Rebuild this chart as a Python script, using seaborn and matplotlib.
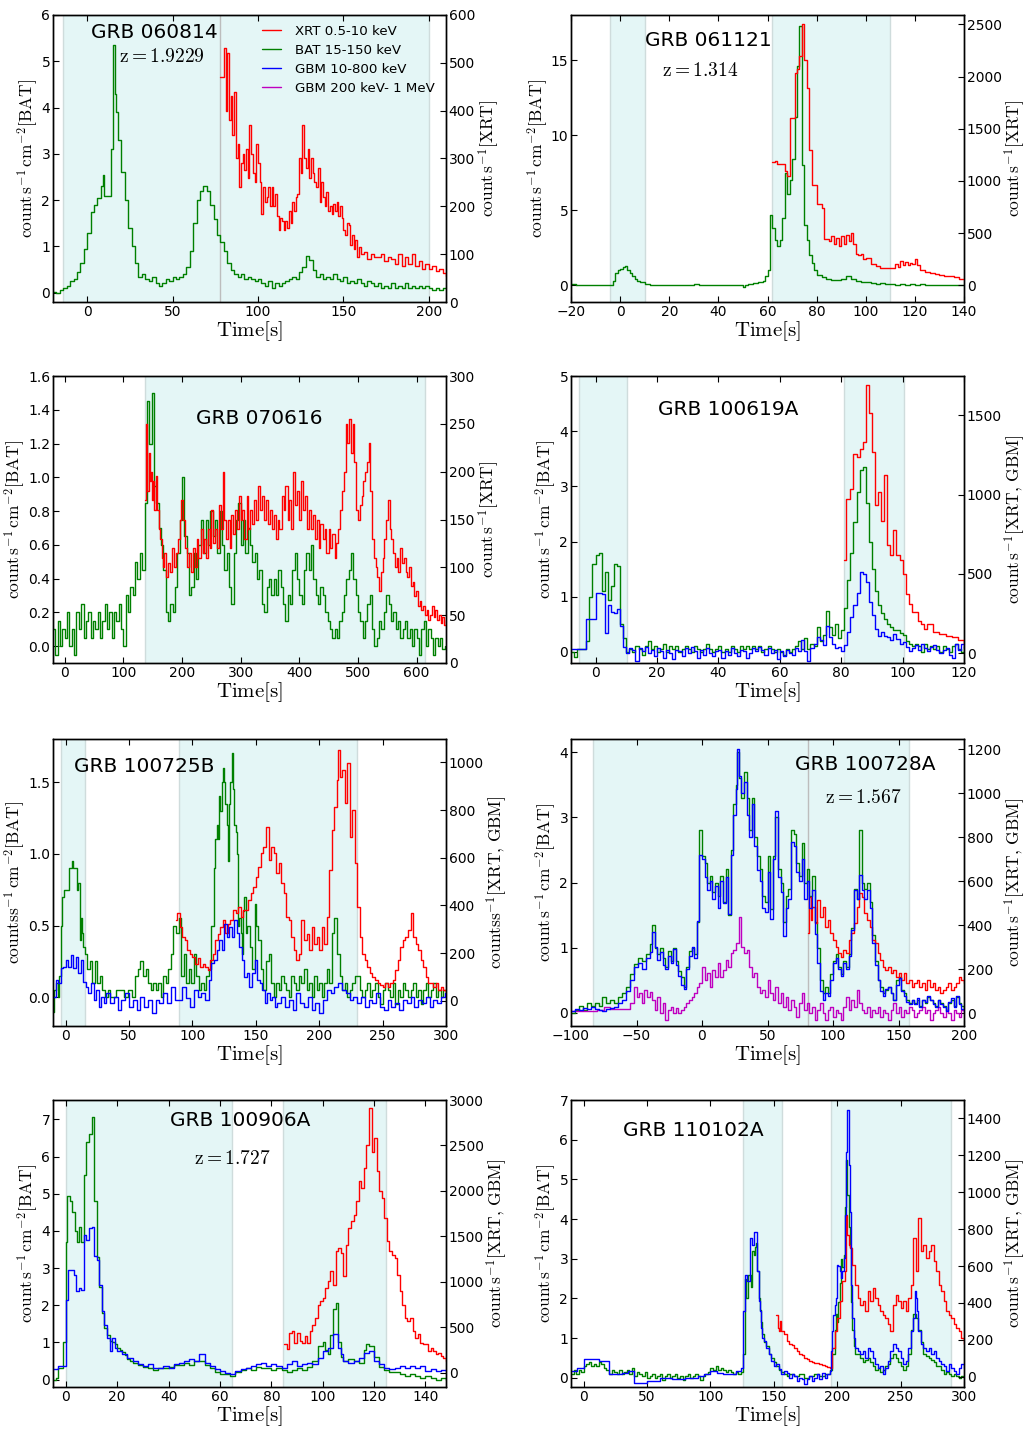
import numpy as np
import matplotlib
matplotlib.use("Agg")
import matplotlib.pyplot as plt
from matplotlib.lines import Line2D
from matplotlib.ticker import MultipleLocator
import seaborn as sns

# ---------------------------------------------------------------------------
# Light curves: (time [s], rate) pairs.
# BAT in counts s^-1 cm^-2 (left axis); XRT / GBM in counts s^-1 (right axis)
# ---------------------------------------------------------------------------

# GRB 060814
bat_060814 = [(-20, 0.02), (-18, 0.0), (-16, 0.05), (-14, 0.1), (-12, 0.15), (-10, 0.25), (-8, 0.3),
              (-6, 0.45), (-4, 0.65), (-2, 0.95), (0, 1.3), (2, 1.75), (4, 1.9), (6, 2.05), (8, 2.3),
              (9, 2.55), (10, 2.1), (12, 2.1), (14, 3.1), (15, 5.35), (16, 4.3), (17, 3.9), (18, 3.3),
              (20, 2.6), (22, 2.0), (24, 1.4), (26, 1.0), (28, 0.65), (30, 0.35), (32, 0.4), (34, 0.3),
              (36, 0.25), (38, 0.35), (40, 0.2), (42, 0.15), (44, 0.2), (46, 0.3), (48, 0.25), (50, 0.35),
              (52, 0.3), (54, 0.35), (56, 0.4), (58, 0.55), (60, 0.9), (62, 1.5), (64, 2.0), (66, 2.2),
              (68, 2.3), (70, 2.2), (72, 1.9), (74, 1.6), (76, 1.25), (78, 1.1), (80, 0.9), (82, 0.65),
              (84, 0.5), (86, 0.4), (88, 0.35), (90, 0.4), (92, 0.3), (94, 0.35), (96, 0.3), (98, 0.25),
              (100, 0.3), (102, 0.2), (104, 0.15), (106, 0.25), (108, 0.1), (110, 0.2), (112, 0.15),
              (114, 0.2), (116, 0.25), (118, 0.3), (120, 0.35), (122, 0.3), (124, 0.45), (126, 0.55),
              (128, 0.8), (130, 0.7), (132, 0.5), (134, 0.35), (136, 0.4), (138, 0.3), (140, 0.35),
              (142, 0.3), (144, 0.4), (146, 0.3), (148, 0.25), (150, 0.35), (152, 0.2), (154, 0.25),
              (156, 0.2), (158, 0.3), (160, 0.2), (162, 0.15), (164, 0.25), (166, 0.2), (168, 0.15),
              (170, 0.2), (172, 0.1), (174, 0.15), (176, 0.1), (178, 0.2), (180, 0.1), (182, 0.15),
              (184, 0.1), (186, 0.2), (188, 0.1), (190, 0.15), (192, 0.1), (194, 0.15), (196, 0.1),
              (198, 0.15), (200, 0.1), (202, 0.05), (204, 0.1), (206, 0.05), (208, 0.1), (210, 0.1)]
xrt_060814 = [(78, 470), (80, 530), (81, 400), (82, 520), (83, 380), (84, 430), (85, 350), (86, 440),
              (87, 300), (88, 330), (89, 240), (90, 290), (91, 310), (92, 275), (93, 320), (94, 260),
              (95, 370), (96, 310), (97, 270), (98, 250), (99, 330), (100, 290), (101, 250), (102, 185),
              (103, 240), (104, 210), (105, 220), (106, 240), (107, 200), (108, 240), (109, 200),
              (110, 225), (111, 180), (112, 150), (113, 175), (114, 170), (115, 150), (116, 170),
              (117, 155), (118, 190), (119, 165), (120, 210), (121, 190), (122, 220), (123, 225),
              (124, 300), (125, 270), (126, 370), (127, 300), (128, 280), (129, 320), (130, 260),
              (131, 300), (132, 270), (133, 250), (134, 240), (135, 280), (136, 210), (137, 250),
              (138, 220), (139, 200), (140, 230), (141, 190), (142, 200), (143, 185), (144, 205),
              (145, 190), (146, 210), (147, 180), (148, 200), (149, 175), (150, 150), (151, 140),
              (152, 165), (153, 160), (154, 120), (155, 140), (156, 110), (157, 130), (158, 95),
              (159, 115), (160, 100), (162, 105), (164, 90), (166, 100), (168, 95), (170, 95), (172, 100),
              (174, 85), (176, 95), (178, 90), (180, 80), (182, 100), (184, 75), (186, 95), (188, 80),
              (190, 100), (192, 75), (194, 85), (196, 70), (198, 80), (200, 70), (202, 75), (204, 65),
              (206, 70), (208, 60), (210, 55)]

# GRB 061121
bat_061121 = [(-20, 0.1), (-18, 0.05), (-16, 0.0), (-14, 0.02), (-12, 0.0), (-10, 0.05), (-8, 0.02),
              (-6, 0.05), (-4, 0.0), (-3, 0.3), (-2, 0.8), (-1, 1.0), (0, 1.1), (1, 1.25), (2, 1.3),
              (3, 1.0), (4, 0.8), (5, 0.6), (6, 0.4), (7, 0.3), (8, 0.2), (10, 0.1), (12, 0.05),
              (14, 0.02), (16, 0.05), (18, 0.0), (20, 0.03), (22, 0.0), (24, 0.05), (26, 0.0), (28, 0.03),
              (30, 0.08), (32, 0.02), (34, 0.0), (36, 0.05), (38, 0.0), (40, 0.03), (42, 0.05), (44, 0.0),
              (46, 0.02), (48, 0.05), (50, -0.1), (51, 0.0), (52, 0.1), (54, 0.15), (56, 0.25), (58, 0.3),
              (59, 0.6), (60, 1.0), (61, 4.7), (62, 3.8), (63, 3.0), (64, 2.6), (65, 3.0), (66, 4.5),
              (67, 7.5), (68, 6.1), (69, 7.0), (70, 8.4), (71, 11.2), (72, 14.6), (73, 17.3), (74, 8.0),
              (75, 4.0), (76, 3.0), (77, 2.0), (78, 1.5), (79, 1.0), (80, 0.7), (82, 0.55), (84, 0.45),
              (86, 0.35), (88, 0.35), (90, 0.45), (92, 0.6), (94, 0.4), (96, 0.3), (98, 0.25), (100, 0.2),
              (102, 0.15), (104, 0.1), (106, 0.15), (108, 0.1), (110, 0.12), (112, 0.05), (114, 0.1),
              (116, 0.05), (118, 0.1), (120, 0.05), (122, 0.08), (124, 0.02), (126, 0.05), (128, 0.0),
              (130, 0.05), (132, 0.02), (134, 0.05), (136, 0.0), (138, 0.03), (140, 0.02)]
xrt_061121 = [(62, 1180), (63, 1190), (64, 1160), (66, 1160), (67, 1100), (68, 1050), (69, 1600),
              (70, 1600), (71, 2030), (72, 2070), (73, 2200), (74, 2500), (75, 2160), (76, 1890),
              (77, 1300), (78, 960), (80, 780), (82, 740), (83, 440), (84, 440), (85, 420), (86, 470),
              (87, 400), (88, 450), (89, 380), (90, 470), (91, 400), (92, 480), (93, 420), (94, 500),
              (95, 400), (96, 300), (97, 290), (98, 300), (99, 250), (100, 260), (102, 200), (104, 185),
              (106, 170), (108, 165), (110, 170), (112, 200), (113, 180), (114, 230), (115, 190),
              (116, 220), (117, 190), (118, 215), (119, 200), (120, 255), (121, 190), (122, 150),
              (124, 130), (126, 120), (128, 110), (130, 100), (132, 90), (134, 85), (136, 75), (138, 65),
              (140, 60)]

# GRB 070616 (BAT in 4 s bins starting at -20 s)
bat_070616_start, bat_070616_bin = -20, 4
bat_070616 = [0.1, -0.05, 0.15, 0.0, 0.1, 0.05, 0.2, 0.0, 0.1, -0.05,
              0.2, 0.1, 0.25, 0.05, 0.15, 0.2, 0.05, 0.15, 0.1, 0.2,
              0.05, 0.15, 0.25, 0.1, 0.2, 0.05, 0.2, 0.15, 0.25, 0.1,
              0.0, 0.3, 0.2, 0.35, 0.3, 0.5, 0.4, 0.55, 0.45, 0.85,
              1.45, 1.2, 1.5, 0.95, 0.85, 0.7, 0.6, 0.45, 0.2, 0.15,
              0.25, 0.2, 0.35, 0.55, 0.75, 1.0, 0.65, 0.55, 0.3, 0.35,
              0.55, 0.4, 0.6, 0.75, 0.55, 0.75, 0.6, 0.8, 0.65, 0.75,
              0.55, 0.8, 0.6, 0.45, 0.55, 0.35, 0.25, 0.55, 0.75, 0.85,
              0.6, 0.75, 0.55, 0.7, 0.6, 0.5, 0.55, 0.4, 0.45, 0.25,
              0.2, 0.35, 0.4, 0.3, 0.4, 0.3, 0.45, 0.35, 0.25, 0.15,
              0.3, 0.25, 0.45, 0.55, 0.4, 0.3, 0.25, 0.45, 0.55, 0.45,
              0.6, 0.4, 0.3, 0.25, 0.35, 0.3, 0.2, 0.15, 0.1, 0.05,
              0.1, 0.05, 0.15, 0.2, 0.3, 0.4, 0.45, 0.55, 0.4, 0.3,
              0.2, 0.15, 0.05, 0.15, 0.25, 0.3, 0.1, 0.0, 0.05, 0.15,
              0.1, 0.2, 0.3, 0.25, 0.15, 0.2, 0.1, 0.15, 0.05, 0.1,
              0.15, 0.05, 0.1, 0.0, 0.1, 0.05, -0.05, 0.1, 0.15, 0.0,
              0.1, 0.05, -0.05, 0.05, 0.0, 0.05, -0.02, 0.0]
xrt_070616 = [(137, 170), (139, 250), (141, 180), (143, 220), (145, 190), (147, 200), (149, 170),
              (151, 190), (153, 160), (155, 195), (157, 160), (160, 140), (163, 130), (165, 110),
              (168, 100), (170, 115), (173, 90), (176, 105), (180, 95), (183, 120), (186, 100), (190, 115),
              (193, 130), (196, 150), (199, 170), (202, 150), (205, 120), (208, 100), (212, 115),
              (215, 95), (218, 120), (222, 100), (225, 130), (228, 110), (232, 140), (235, 115),
              (238, 130), (241, 110), (244, 140), (247, 120), (250, 160), (253, 125), (256, 140),
              (260, 120), (263, 165), (266, 140), (269, 200), (272, 150), (275, 130), (278, 150),
              (281, 120), (284, 155), (287, 135), (290, 160), (294, 140), (297, 175), (300, 150),
              (303, 160), (306, 130), (310, 175), (313, 140), (316, 160), (320, 145), (323, 170),
              (326, 150), (330, 185), (333, 160), (336, 175), (340, 150), (343, 170), (346, 145),
              (350, 160), (353, 140), (356, 155), (360, 130), (363, 150), (366, 140), (370, 175),
              (373, 160), (376, 185), (380, 150), (383, 170), (386, 140), (390, 200), (393, 165),
              (396, 180), (400, 150), (403, 190), (406, 160), (410, 175), (413, 140), (416, 160),
              (420, 140), (423, 155), (426, 130), (430, 150), (433, 120), (436, 145), (440, 130),
              (443, 140), (446, 115), (450, 140), (453, 120), (456, 135), (460, 110), (463, 125),
              (466, 140), (470, 160), (473, 180), (476, 200), (479, 250), (482, 230), (485, 255),
              (488, 220), (491, 250), (494, 210), (497, 160), (500, 150), (503, 165), (506, 175),
              (509, 190), (512, 200), (515, 210), (518, 230), (521, 180), (524, 130), (527, 110),
              (530, 100), (533, 90), (536, 75), (539, 95), (542, 110), (545, 130), (548, 150),
              (551, 170), (554, 140), (557, 130), (560, 115), (563, 100), (566, 110), (569, 95),
              (572, 120), (575, 105), (578, 110), (581, 95), (584, 90), (587, 100), (590, 80),
              (593, 85), (596, 70), (599, 75), (602, 60), (605, 65), (608, 55), (611, 60), (614, 50),
              (617, 55), (620, 45), (623, 50), (626, 60), (629, 48), (632, 55), (635, 45), (638, 50),
              (641, 42), (644, 48), (647, 40), (650, 45)]

# GRB 100619A
bat_100619A = [(-8, 0.0), (-7, -0.1), (-6, 0.05), (-5, 0.05), (-4, 0.05), (-3, 0.2), (-2, 1.0),
               (-1, 1.6), (0, 1.75), (1, 1.8), (2, 1.1), (3, 1.45), (4, 0.95), (5, 1.2), (6, 1.6),
               (7, 1.55), (8, 0.5), (9, 0.25), (10, 0.0), (11, 0.05), (12, 0.0), (13, 0.1), (14, 0.05),
               (15, -0.05), (16, 0.1), (17, 0.2), (18, 0.05), (19, 0.1), (20, 0.0), (21, 0.05), (22, 0.15),
               (23, 0.0), (24, 0.1), (25, 0.05), (26, 0.1), (27, 0.0), (28, 0.05), (29, 0.1), (30, 0.05),
               (31, 0.0), (32, 0.1), (33, 0.05), (34, 0.0), (35, 0.05), (36, 0.15), (37, 0.05), (38, 0.0),
               (39, 0.05), (40, 0.1), (41, 0.0), (42, 0.05), (43, 0.0), (44, 0.1), (45, 0.05), (46, 0.0),
               (47, 0.1), (48, 0.05), (49, 0.1), (50, 0.05), (51, 0.1), (52, 0.05), (53, 0.1), (54, 0.0),
               (55, 0.05), (56, 0.1), (57, 0.05), (58, 0.0), (59, 0.05), (60, 0.0), (61, -0.05),
               (62, 0.05), (63, 0.0), (64, 0.05), (65, 0.1), (66, 0.2), (67, 0.05), (68, 0.25), (69, 0.05),
               (70, 0.15), (71, 0.1), (72, 0.45), (73, 0.2), (74, 0.3), (75, 0.75), (76, 0.45), (77, 0.3),
               (78, 0.5), (79, 0.25), (80, 0.4), (81, 0.8), (82, 1.3), (83, 1.8), (84, 2.35), (85, 2.9),
               (86, 3.3), (87, 3.35), (88, 2.7), (89, 2.0), (90, 1.5), (91, 1.1), (92, 0.85), (93, 0.7),
               (94, 0.6), (95, 0.5), (96, 0.45), (97, 0.4), (98, 0.4), (99, 0.35), (100, 0.3), (101, 0.2),
               (102, 0.15), (103, 0.1), (104, 0.15), (105, 0.1), (106, 0.0), (107, 0.15), (108, 0.05),
               (109, 0.1), (110, 0.05), (111, 0.1), (112, 0.0), (113, 0.1), (114, 0.05), (115, 0.0),
               (116, 0.1), (117, 0.15), (118, 0.05), (119, 0.0), (120, 0.1)]
gbm_100619A = [(-8, 27), (-6, 27), (-4, 27), (-3, 215), (-1, 215), (0, 381), (1, 380), (2, 370),
               (3, 125), (4, 304), (5, 260), (6, 250), (7, 277), (8, 170), (9, 40), (10, 0), (11, 30),
               (12, 20), (13, -50), (14, 30), (15, 10), (16, 40), (17, 0), (18, 20), (19, -20), (20, 30),
               (21, 10), (22, -30), (23, 20), (24, 0), (25, -40), (26, 20), (27, 10), (28, -20), (29, 30),
               (30, 0), (31, 40), (32, 10), (33, -30), (34, 20), (35, -10), (36, 30), (37, 0), (38, -20),
               (39, 10), (40, 20), (41, -30), (42, 10), (43, -10), (44, 30), (45, 0), (46, -20), (47, 20),
               (48, 10), (49, -30), (50, 0), (51, 30), (52, 10), (53, 40), (54, 20), (55, -10), (56, 30),
               (57, 0), (58, 20), (59, -40), (60, 10), (61, -20), (62, 20), (63, 0), (64, -10), (65, 30),
               (66, 10), (67, 80), (68, 10), (69, -50), (70, 30), (71, 60), (72, 100), (73, 80), (74, 50),
               (75, 170), (76, 100), (77, 60), (78, 30), (79, 40), (80, 10), (81, 50), (82, 130),
               (83, 230), (84, 300), (85, 380), (86, 510), (87, 500), (88, 450), (89, 320), (90, 240),
               (91, 150), (92, 110), (93, 130), (94, 110), (95, 100), (96, 80), (97, 120), (98, 90),
               (99, 60), (100, 70), (101, 40), (102, 10), (103, 30), (104, 50), (105, 20), (106, 60),
               (107, 30), (108, 10), (109, 40), (110, 50), (111, 20), (112, 0), (113, 20), (114, 30),
               (115, -10), (116, -30), (117, 60), (118, 20), (119, 60), (120, 30)]
xrt_100619A = [(81, 590), (81.5, 975), (83, 1037), (84, 1256), (85, 1235), (86, 1288), (87, 1333),
               (88, 1694), (89, 1517), (90, 1267), (91, 933), (92, 1017), (93, 835), (94, 1125),
               (95, 683), (96, 621), (97, 777), (98, 621), (99, 590), (100, 496), (101, 371), (102, 308),
               (103, 256), (105, 204), (106, 183), (107, 152), (108, 183), (110, 131), (112, 120),
               (114, 110), (116, 100), (118, 80), (120, 60)]

# GRB 100725B
bat_100725B = [(-10, -0.1), (-9, 0.05), (-8, 0.1), (-6, 0.0), (-5, 0.15), (-4, 0.5), (-3, 0.7),
               (-1, 0.75), (1, 0.75), (3, 0.9), (5, 0.95), (6, 0.9), (8, 0.9), (9, 0.75), (10, 0.8),
               (11, 0.4), (12, 0.55), (13, 0.45), (14, 0.35), (15, 0.3), (17, 0.2), (19, 0.25), (21, 0.1),
               (23, 0.25), (25, 0.1), (27, 0.15), (29, 0.05), (31, 0.0), (33, 0.05), (35, 0.0), (37, 0.0),
               (40, 0.05), (43, 0.05), (46, 0.0), (49, 0.05), (52, 0.0), (55, 0.15), (57, 0.2), (59, 0.25),
               (61, 0.15), (63, 0.2), (65, 0.1), (67, 0.05), (69, 0.1), (71, 0.05), (73, 0.1), (75, 0.0),
               (77, 0.15), (79, 0.1), (81, 0.2), (83, 0.3), (85, 0.5), (87, 0.45), (89, 0.55), (91, 0.15),
               (93, 0.3), (95, 0.1), (97, 0.2), (99, 0.1), (101, 0.3), (103, 0.15), (105, 0.05),
               (107, 0.1), (109, 0.05), (111, 0.15), (113, 0.2), (115, 0.5), (117, 0.9), (118, 1.1),
               (119, 1.2), (120, 1.1), (121, 1.4), (122, 1.3), (123, 1.5), (124, 1.6), (125, 1.5),
               (126, 1.35), (127, 1.2), (128, 0.95), (129, 1.35), (130, 1.5), (131, 1.7), (132, 1.45),
               (133, 1.2), (134, 1.15), (135, 1.0), (136, 0.5), (137, 0.55), (138, 0.45), (139, 0.3),
               (140, 0.6), (141, 0.7), (142, 0.45), (143, 0.5), (145, 0.35), (147, 0.2), (149, 0.65),
               (150, 0.5), (152, 0.4), (154, 0.2), (156, 0.05), (158, 0.25), (160, 0.3), (162, 0.1),
               (164, 0.0), (166, 0.1), (168, 0.05), (170, 0.15), (172, 0.1), (174, 0.05), (176, 0.0),
               (178, 0.15), (180, 0.1), (182, 0.05), (184, 0.15), (186, 0.1), (188, 0.2), (190, 0.05),
               (192, 0.1), (194, 0.0), (196, 0.15), (198, 0.05), (200, 0.1), (202, 0.0), (204, 0.1),
               (206, 0.2), (208, 0.1), (210, 0.45), (212, 0.55), (214, 0.3), (216, 0.15), (218, 0.05),
               (220, 0.1), (222, 0.0), (224, 0.05), (226, 0.1), (228, 0.15), (230, 0.15), (232, 0.05),
               (234, 0.0), (236, 0.05), (238, 0.1), (240, 0.0), (242, 0.05), (244, 0.1), (246, 0.0),
               (248, -0.05), (250, 0.05), (252, 0.1), (254, 0.05), (256, 0.0), (258, 0.1), (260, -0.05),
               (262, 0.05), (264, 0.0), (266, 0.1), (268, 0.05), (270, 0.0), (272, 0.05), (274, 0.1),
               (276, 0.0), (278, 0.05), (280, -0.05), (282, 0.05), (284, 0.1), (286, 0.0), (288, 0.05),
               (290, 0.1), (292, 0.0), (294, 0.05), (296, 0.0), (298, 0.05), (300, 0.0)]
gbm_100725B = [(-10, 17), (-8, 87), (-6, 73), (-4, 136), (-2, 143), (0, 171), (2, 143), (4, 192),
               (6, 136), (8, 185), (10, 115), (12, 171), (14, 80), (16, 59), (18, 31), (20, 73), (22, 3),
               (24, 45), (26, -25), (28, 17), (30, -11), (32, 31), (35, -11), (38, 17), (41, -39), (44, 3),
               (47, 31), (50, -25), (53, 3), (56, -39), (59, 17), (62, -25), (65, 3), (68, -53), (71, 3),
               (74, -11), (77, 31), (80, -11), (83, 59), (86, 3), (89, 3), (92, 59), (95, 10), (98, -25),
               (101, 45), (104, 17), (107, 31), (110, 3), (113, 87), (115, 157), (117, 171), (119, 213),
               (121, 255), (123, 213), (125, 324), (127, 269), (129, 310), (131, 269), (133, 338),
               (135, 283), (137, 227), (139, 171), (141, 101), (143, 115), (145, 59), (147, 115),
               (149, 171), (151, 87), (153, 73), (155, 45), (157, -11), (159, 31), (161, 3), (163, 17),
               (165, -25), (167, -11), (170, 17), (173, -25), (176, 3), (179, -39), (182, 31), (185, -11),
               (188, -25), (191, 17), (194, -39), (197, -11), (200, -53), (203, 3), (206, 45), (209, 31),
               (212, 59), (215, 73), (218, 45), (221, 31), (224, 3), (227, 17), (230, -11), (233, 17),
               (236, -25), (239, 3), (242, -11), (245, 31), (248, -25), (251, -39), (254, 3), (257, -25),
               (260, -11), (263, -39), (266, 3), (269, -11), (272, 17), (275, -25), (278, 3), (281, -11),
               (284, 17), (287, -25), (290, 3), (293, -11), (296, 17), (299, 31)]
xrt_100725B = [(87, 338), (88, 366), (90, 310), (92, 268), (94, 254), (96, 212), (98, 198), (100, 185),
               (102, 156), (104, 178), (106, 142), (108, 156), (110, 142), (112, 128), (114, 170),
               (116, 198), (118, 254), (120, 282), (122, 310), (124, 338), (126, 283), (128, 324),
               (130, 338), (132, 380), (134, 366), (136, 394), (138, 352), (140, 380), (142, 380),
               (144, 422), (146, 450), (148, 478), (150, 520), (152, 562), (154, 618), (156, 646),
               (158, 730), (160, 590), (162, 646), (164, 618), (166, 534), (168, 576), (170, 492),
               (172, 450), (174, 352), (176, 338), (178, 268), (180, 212), (182, 170), (184, 198),
               (186, 338), (188, 254), (190, 282), (192, 212), (194, 310), (196, 240), (198, 268),
               (200, 212), (202, 310), (204, 240), (206, 352), (208, 548), (210, 716), (212, 814),
               (214, 926), (215, 1052), (216, 940), (218, 968), (220, 828), (222, 996), (224, 688),
               (226, 800), (228, 576), (230, 394), (232, 268), (234, 198), (236, 170), (238, 142),
               (240, 115), (242, 101), (244, 87), (246, 73), (248, 66), (250, 59), (252, 73), (254, 59),
               (256, 73), (258, 87), (260, 128), (262, 170), (264, 226), (266, 254), (268, 268),
               (270, 296), (272, 366), (274, 268), (276, 240), (278, 212), (280, 170), (282, 142),
               (284, 101), (286, 73), (288, 73), (290, 59), (292, 73), (294, 45), (296, 59), (298, 45),
               (300, 31)]

# GRB 100728A
bat_100728A = [(-100, 0.0), (-97, 0.05), (-94, 0.1), (-91, 0.05), (-88, 0.15), (-85, 0.1), (-82, 0.15),
               (-79, 0.1), (-76, 0.25), (-73, 0.15), (-70, 0.2), (-67, 0.15), (-64, 0.25), (-61, 0.3),
               (-58, 0.4), (-55, 0.6), (-52, 0.75), (-49, 0.85), (-46, 0.8), (-43, 0.9), (-40, 1.05),
               (-38, 1.35), (-36, 1.0), (-34, 0.9), (-32, 1.0), (-30, 0.85), (-28, 0.7), (-26, 0.95),
               (-24, 0.8), (-22, 1.0), (-20, 0.8), (-18, 0.65), (-16, 0.55), (-14, 0.4), (-12, 0.7),
               (-10, 0.95), (-8, 1.0), (-6, 0.9), (-4, 1.4), (-2, 2.8), (0, 2.4), (2, 2.3), (4, 2.0),
               (6, 2.1), (8, 1.85), (10, 2.0), (12, 1.8), (14, 2.1), (16, 1.7), (18, 2.2), (20, 1.5),
               (22, 2.5), (24, 3.2), (26, 3.5), (27, 4.0), (28, 3.6), (30, 3.3), (32, 3.7), (34, 3.3),
               (36, 2.8), (38, 3.3), (40, 2.7), (42, 2.4), (44, 2.2), (46, 1.8), (48, 1.7), (50, 2.4),
               (52, 1.6), (54, 2.4), (56, 3.0), (58, 2.2), (60, 2.0), (62, 1.4), (64, 1.8), (66, 1.9),
               (68, 2.8), (70, 2.75), (72, 2.3), (74, 2.1), (76, 2.6), (78, 2.0), (80, 2.2), (82, 1.8),
               (84, 2.1), (86, 1.4), (88, 1.0), (90, 0.5), (92, 0.3), (94, 0.4), (96, 0.3), (98, 0.6),
               (100, 0.8), (102, 0.9), (104, 0.7), (106, 0.6), (108, 0.8), (110, 0.7), (112, 0.9),
               (114, 1.3), (116, 1.9), (118, 1.75), (120, 2.8), (122, 2.0), (124, 1.9), (126, 2.0),
               (128, 1.7), (130, 1.2), (132, 0.8), (134, 0.5), (136, 0.4), (138, 0.3), (140, 0.35),
               (142, 0.4), (144, 0.3), (146, 0.2), (148, 0.5), (150, 0.55), (152, 0.35), (154, 0.3),
               (156, 0.2), (158, 0.15), (160, 0.2), (162, 0.15), (164, 0.2), (166, 0.1), (168, 0.2),
               (170, 0.15), (172, 0.25), (174, 0.2), (176, 0.15), (178, 0.1), (180, 0.2), (182, 0.15),
               (184, 0.1), (186, 0.05), (188, 0.15), (190, 0.2), (192, 0.1), (194, 0.25), (196, 0.15),
               (198, 0.1), (200, 0.05)]
gbm_100728A = [(-100, 10), (-97, 20), (-94, 15), (-91, 25), (-88, 20), (-85, 30), (-82, 20), (-79, 15),
               (-76, 10), (-73, 20), (-70, 25), (-67, 30), (-64, 45), (-61, 60), (-58, 100), (-55, 150),
               (-52, 210), (-49, 230), (-46, 200), (-43, 250), (-40, 280), (-38, 370), (-36, 300),
               (-34, 240), (-32, 280), (-30, 220), (-28, 200), (-26, 260), (-24, 230), (-22, 290),
               (-20, 220), (-18, 170), (-16, 130), (-14, 110), (-12, 200), (-10, 260), (-8, 300),
               (-6, 250), (-4, 420), (-2, 720), (0, 700), (2, 620), (4, 560), (6, 600), (8, 520),
               (10, 580), (12, 480), (14, 600), (16, 500), (18, 620), (20, 450), (22, 720), (24, 900),
               (26, 1020), (27, 1200), (28, 1080), (30, 1000), (32, 1050), (34, 900), (36, 800), (38, 950),
               (40, 760), (42, 650), (44, 600), (46, 480), (48, 460), (50, 640), (52, 430), (54, 700),
               (56, 920), (58, 620), (60, 550), (62, 350), (64, 480), (66, 520), (68, 780), (70, 760),
               (72, 640), (74, 600), (76, 700), (78, 520), (80, 600), (82, 480), (84, 560), (86, 360),
               (88, 230), (90, 100), (92, 60), (94, 90), (96, 80), (98, 150), (100, 230), (102, 250),
               (104, 200), (106, 170), (108, 230), (110, 200), (112, 260), (114, 380), (116, 560),
               (118, 520), (120, 630), (122, 560), (124, 520), (126, 560), (128, 480), (130, 320),
               (132, 220), (134, 150), (136, 100), (138, 80), (140, 110), (142, 120), (144, 90), (146, 60),
               (148, 130), (150, 160), (152, 100), (154, 80), (156, 50), (158, 40), (160, 60), (162, 40),
               (164, 70), (166, 30), (168, 60), (170, 50), (172, 80), (174, 60), (176, 40), (178, 30),
               (180, 60), (182, 40), (184, 30), (186, 10), (188, 50), (190, 70), (192, 30), (194, 80),
               (196, 40), (198, 20), (200, 10)]
gbm_hi_100728A = [(-100, 8), (-95, 8), (-90, 8), (-85, 8), (-80, 15), (-75, 27), (-70, 20), (-65, 18),
                  (-60, 18), (-55, 45), (-52, 121), (-50, 76), (-48, 91), (-46, 45), (-44, 106), (-42, 76),
                  (-40, 98), (-38, 61), (-36, 15), (-34, 76), (-32, 0), (-30, 45), (-28, -30), (-26, 15),
                  (-24, 30), (-22, 0), (-20, 23), (-18, 0), (-16, 15), (-14, 30), (-12, 45), (-10, 61),
                  (-8, 76), (-6, 91), (-4, 121), (-2, 136), (0, 212), (2, 152), (4, 182), (6, 121),
                  (8, 197), (10, 167), (12, 227), (14, 167), (16, 197), (18, 242), (20, 212), (22, 273),
                  (24, 288), (26, 318), (28, 439), (30, 303), (32, 273), (34, 288), (36, 212), (38, 167),
                  (40, 182), (42, 121), (44, 91), (46, 106), (48, 76), (50, 152), (52, 91), (54, 61),
                  (56, 121), (58, 45), (60, 91), (62, 30), (64, 76), (66, 15), (68, 61), (70, 30),
                  (72, -15), (74, 45), (76, 91), (78, 15), (80, 45), (82, 0), (84, 30), (86, -30),
                  (88, 15), (90, 45), (92, 0), (94, -30), (96, 15), (98, 30), (100, -15), (102, 15),
                  (104, 0), (106, -30), (108, 30), (110, 76), (112, 15), (114, 61), (116, 30), (118, 106),
                  (120, 45), (122, 15), (124, 0), (126, 30), (128, -15), (130, 15), (132, 0), (134, 30),
                  (136, -15), (138, 15), (140, 0), (142, -30), (144, 15), (146, 45), (148, 0), (150, 30),
                  (152, -15), (154, 15), (156, 0), (158, 30), (160, 15), (162, -15), (164, 0), (166, 15),
                  (168, 30), (170, 0), (172, 15), (174, -30), (176, 0), (178, 15), (180, 30), (182, 0),
                  (184, -15), (186, 15), (188, 0), (190, -30), (192, 15), (194, 0), (196, -15), (198, 15),
                  (200, 0)]
xrt_100728A = [(81, 364), (82, 530), (83, 424), (84, 485), (86, 409), (88, 515), (90, 439), (92, 485),
               (94, 394), (96, 424), (98, 364), (100, 333), (102, 303), (104, 273), (106, 258), (108, 288),
               (110, 273), (112, 333), (114, 364), (116, 409), (118, 485), (120, 545), (122, 530),
               (124, 455), (126, 424), (128, 394), (130, 333), (132, 318), (134, 273), (136, 242),
               (138, 212), (140, 197), (142, 212), (144, 182), (146, 197), (148, 167), (150, 182),
               (152, 152), (154, 182), (156, 136), (158, 152), (160, 121), (162, 136), (164, 152),
               (166, 121), (168, 136), (170, 106), (172, 152), (174, 121), (176, 136), (178, 106),
               (180, 121), (182, 91), (184, 106), (186, 121), (188, 136), (190, 106), (192, 121),
               (194, 136), (196, 167), (198, 152), (200, 136)]

# GRB 100906A
bat_100906A = [(-5, 0.0), (-4, 0.05), (-3, 0.3), (-2, 0.3), (-1, 1.0), (0, 3.7), (0.5, 4.95),
               (1.5, 4.8), (2.5, 4.5), (3.5, 4.0), (4.5, 3.7), (5, 4.1), (6, 3.7), (7, 5.5), (8, 6.4),
               (9, 6.6), (10, 7.05), (11, 4.8), (12, 3.3), (13, 2.5), (14, 1.8), (15, 1.4), (16, 1.2),
               (17, 1.05), (18, 1.0), (19, 0.95), (20, 0.85), (21, 0.8), (22, 0.75), (23, 0.65), (24, 0.55),
               (25, 0.5), (26, 0.45), (28, 0.4), (30, 0.35), (32, 0.3), (34, 0.25), (36, 0.3), (38, 0.3),
               (40, 0.35), (42, 0.4), (44, 0.4), (46, 0.45), (48, 0.4), (50, 0.5), (52, 0.5), (54, 0.4),
               (56, 0.3), (58, 0.2), (60, 0.15), (62, 0.15), (64, 0.1), (66, 0.2), (68, 0.25), (70, 0.3),
               (72, 0.25), (74, 0.35), (76, 0.3), (78, 0.3), (80, 0.25), (82, 0.3), (84, 0.25), (86, 0.2),
               (88, 0.25), (90, 0.3), (92, 0.25), (94, 0.35), (96, 0.5), (98, 0.9), (100, 1.0), (101, 0.8),
               (102, 0.7), (103, 1.2), (104, 1.9), (105, 2.05), (106, 1.0), (107, 0.6), (108, 0.5),
               (110, 0.55), (112, 0.5), (114, 0.45), (116, 0.8), (117, 0.95), (118, 0.9), (120, 0.6),
               (122, 0.35), (124, 0.25), (126, 0.2), (128, 0.2), (130, 0.15), (132, 0.1), (134, 0.15),
               (136, 0.1), (138, 0.05), (140, 0.1), (142, 0.05), (144, 0.0), (146, 0.05), (148, 0.0)]
gbm_100906A = [(-5, 37), (-3, 73), (-1, 73), (0, 805), (1, 1134), (3, 1079), (4, 896), (5, 933),
               (6, 915), (7, 1518), (8, 1464), (9, 1592), (10, 1599), (11, 1281), (12, 1244), (13, 970),
               (14, 677), (15, 530), (16, 384), (17, 238), (18, 384), (19, 274), (20, 238), (22, 201),
               (24, 165), (26, 128), (28, 91), (30, 73), (32, 91), (34, 55), (36, 55), (38, 73), (40, 55),
               (42, 91), (44, 110), (46, 128), (48, 146), (50, 128), (52, 201), (54, 110), (56, 73),
               (58, 37), (60, 18), (62, 0), (64, -18), (66, 18), (68, 37), (70, 55), (72, 73), (74, 91),
               (76, 110), (78, 73), (80, 91), (82, 73), (84, 55), (86, 91), (88, 128), (90, 73), (92, 91),
               (94, 110), (96, 91), (98, 165), (100, 238), (102, 274), (104, 421), (105, 421), (106, 274),
               (107, 201), (108, 128), (110, 110), (112, 128), (114, 165), (116, 220), (118, 238),
               (120, 128), (122, 91), (124, 55), (126, 37), (128, 55), (130, 73), (132, 55), (134, 73),
               (136, 55), (138, 73), (140, 18), (142, 37), (144, 18), (146, 25), (148, 18)]
xrt_100906A = [(85, 311), (86, 256), (87, 439), (88, 457), (89, 329), (90, 439), (91, 348), (92, 329),
               (93, 402), (94, 329), (95, 457), (96, 530), (97, 604), (98, 750), (99, 787), (100, 823),
               (101, 933), (102, 1006), (103, 1116), (104, 970), (105, 1336), (106, 1372), (107, 1317),
               (108, 1061), (109, 1409), (110, 1592), (111, 1665), (112, 1738), (113, 1884), (114, 2104),
               (115, 2031), (116, 2250), (117, 2506), (118, 2909), (119, 2433), (120, 2580), (121, 2214),
               (122, 1994), (123, 1921), (124, 1701), (125, 1445), (126, 1336), (127, 1299), (128, 1262),
               (129, 1079), (130, 896), (131, 750), (132, 604), (133, 567), (134, 604), (135, 457),
               (136, 384), (137, 421), (138, 329), (139, 311), (140, 311), (141, 238), (142, 274),
               (143, 238), (144, 201), (145, 220), (146, 183), (147, 165), (148, 128)]

# GRB 110102A
bat_110102A = [(-10, 0.1), (-8, 0.2), (-6, 0.1), (-4, 0.2), (-2, 0.15), (0, 0.3), (2, 0.35), (4, 0.4),
               (6, 0.3), (8, 0.35), (10, 0.3), (12, 0.4), (14, 0.35), (16, 0.25), (18, 0.2), (20, 0.1),
               (22, 0.2), (24, 0.15), (26, 0.1), (28, 0.2), (30, 0.1), (32, 0.15), (34, 0.2), (36, 0.1),
               (38, 0.25), (40, 0.05), (42, 0.15), (44, 0.1), (46, 0.05), (48, 0.15), (50, 0.0), (52, 0.05),
               (54, 0.1), (56, 0.0), (58, 0.05), (60, 0.1), (62, -0.05), (64, 0.05), (66, 0.1), (68, 0.0),
               (70, 0.05), (72, 0.1), (74, 0.0), (76, 0.05), (78, -0.05), (80, 0.05), (82, 0.1), (84, 0.0),
               (86, 0.05), (88, 0.1), (90, 0.05), (92, -0.05), (94, 0.05), (96, 0.1), (98, 0.15),
               (100, 0.25), (102, 0.2), (104, 0.3), (106, 0.2), (108, 0.25), (110, 0.2), (112, 0.15),
               (114, 0.2), (116, 0.15), (118, 0.1), (120, 0.15), (122, 0.1), (124, 0.15), (126, 0.6),
               (127, 2.5), (128, 2.0), (130, 2.6), (132, 2.3), (133, 3.2), (134, 3.1), (135, 3.3),
               (136, 3.4), (137, 2.7), (138, 2.0), (139, 1.7), (140, 1.4), (141, 1.1), (142, 0.9),
               (144, 0.8), (146, 0.6), (148, 0.5), (150, 0.4), (152, 0.3), (154, 0.2), (156, 0.15),
               (158, 0.1), (160, 0.05), (162, 0.1), (166, 0.05), (170, 0.1), (174, 0.0), (178, 0.05),
               (182, 0.1), (186, 0.05), (190, 0.1), (194, 0.2), (196, 0.6), (198, 1.2), (199, 1.6),
               (200, 1.4), (201, 1.9), (202, 2.4), (203, 3.0), (204, 2.8), (205, 3.1), (206, 4.3),
               (207, 5.5), (208, 4.6), (209, 3.8), (210, 3.3), (211, 1.9), (212, 1.2), (213, 0.8),
               (214, 0.6), (216, 0.6), (218, 0.5), (220, 0.4), (222, 0.45), (224, 0.5), (226, 0.4),
               (228, 0.3), (230, 0.2), (232, 0.25), (234, 0.15), (236, 0.2), (238, 0.3), (240, 0.35),
               (242, 0.5), (244, 0.6), (246, 0.5), (248, 0.4), (250, 0.3), (252, 0.2), (254, 0.3),
               (256, 0.6), (258, 1.2), (260, 1.6), (262, 1.5), (264, 1.2), (266, 0.9), (268, 0.6),
               (270, 0.55), (272, 0.5), (274, 0.45), (276, 0.4), (278, 0.3), (280, 0.3), (282, 0.2),
               (284, 0.1), (286, 0.15), (288, 0.1), (290, 0.05), (292, 0.1), (294, 0.05), (296, 0.0),
               (298, 0.05), (300, 0.0)]
gbm_110102A = [(-10, 31), (-5, 49), (0, 94), (5, 94), (12, 85), (20, 13), (30, 22), (35, 31), (40, -32),
               (50, -23), (60, -5), (70, -14), (80, -5), (90, 4), (95, 13), (100, 31), (105, 22), (110, 13),
               (115, 16), (120, 31), (124, 49), (126, 355), (127, 553), (129, 517), (131, 751), (133, 715),
               (134, 787), (136, 787), (137, 571), (138, 409), (139, 355), (140, 265), (141, 211),
               (142, 193), (144, 157), (146, 121), (148, 85), (150, 58), (152, 67), (154, 40), (156, 13),
               (158, 31), (160, 22), (162, -5), (164, 13), (166, 4), (168, -23), (170, -5), (172, -14),
               (174, -41), (176, -14), (178, 4), (180, -23), (182, -5), (184, 13), (186, -14), (188, 22),
               (190, -5), (192, 13), (194, 31), (195, 139), (196, 247), (197, 337), (198, 391), (199, 427),
               (200, 607), (201, 598), (202, 571), (203, 535), (204, 571), (205, 643), (206, 877),
               (207, 1220), (208, 1445), (209, 1148), (210, 895), (211, 499), (212, 319), (213, 211),
               (214, 157), (216, 139), (218, 121), (220, 139), (222, 103), (224, 157), (226, 139),
               (228, 103), (230, 67), (232, 49), (234, 58), (236, 13), (238, 49), (240, 85), (242, 139),
               (244, 175), (246, 157), (248, 139), (250, 103), (252, 67), (254, 85), (256, 157), (258, 247),
               (260, 319), (261, 463), (262, 427), (263, 355), (264, 247), (266, 175), (268, 157),
               (270, 139), (272, 157), (274, 121), (276, 139), (278, 103), (280, 85), (282, 67), (284, 58),
               (286, 31), (288, 67), (290, 49), (292, 31), (294, 13), (296, 49), (298, 67), (300, 49)]
xrt_110102A = [(152, 337), (153, 265), (154, 247), (155, 301), (156, 247), (158, 229), (160, 193),
               (162, 175), (164, 170), (166, 157), (168, 139), (170, 121), (172, 115), (174, 103),
               (176, 95), (178, 85), (180, 82), (182, 76), (184, 72), (186, 67), (188, 63), (190, 58),
               (192, 54), (194, 49), (196, 157), (198, 247), (200, 319), (202, 409), (204, 517), (206, 571),
               (207, 877), (208, 769), (209, 715), (210, 697), (212, 607), (214, 499), (216, 427),
               (218, 391), (220, 409), (222, 355), (224, 463), (226, 409), (228, 481), (230, 427),
               (232, 391), (234, 355), (236, 337), (238, 319), (240, 283), (242, 247), (244, 391),
               (246, 445), (248, 409), (250, 373), (252, 409), (254, 355), (256, 427), (258, 499),
               (260, 751), (262, 571), (264, 859), (266, 679), (268, 715), (270, 643), (272, 679),
               (274, 715), (276, 625), (278, 571), (280, 499), (282, 463), (284, 409), (286, 355),
               (288, 337), (290, 319), (292, 283), (294, 265), (296, 247), (298, 211), (300, 175)]

# ---------------------------------------------------------------------------
# Style
# ---------------------------------------------------------------------------
sns.set_theme(style="ticks")
plt.rcParams.update({
    "font.family": ["DejaVu Sans"],
    "mathtext.fontset": "cm",
    "text.color": "black",
    "axes.labelcolor": "black",
    "axes.edgecolor": "black",
    "axes.linewidth": 1.0,
    "xtick.direction": "in",
    "ytick.direction": "in",
    "xtick.major.size": 4,
    "ytick.major.size": 4,
    "xtick.major.width": 0.8,
    "ytick.major.width": 0.8,
    "xtick.major.pad": 2,
    "ytick.major.pad": 2,
    "xtick.labelsize": 10,
    "ytick.labelsize": 10,
    "xtick.color": "black",
    "ytick.color": "black",
})

C_XRT, C_BAT, C_GBM, C_GBMHI = "#ff0000", "#008000", "#0000ff", "#bf00bf"
SPAN_FACE, SPAN_EDGE, MARK_LINE = "#e4f6f6", "#cfdcdc", "#bdbdbd"

W, H = 1027, 1430
fig = plt.figure(figsize=(W / 100, H / 100), dpi=100)


def fpos(x, y):
    return x / W, 1 - y / H


def add_axes(left, top, width=393, height=287):
    return fig.add_axes([left / W, 1 - (top + height) / H, width / W, height / H])


def steps(ax, pairs, color):
    t = np.array([p[0] for p in pairs], dtype=float)
    v = np.array([p[1] for p in pairs], dtype=float)
    sns.lineplot(x=t, y=v, ax=ax, color=color, lw=1.0, drawstyle="steps-post",
                 estimator=None, sort=False, legend=False)


BAT_LABEL = r"$\mathrm{count\,s^{-1}\,cm^{-2}[BAT]}$"
XRT_LABEL = r"$\mathrm{count\,s^{-1}[XRT]}$"
XG_LABEL = r"$\mathrm{count\,s^{-1}[XRT,\,GBM]}$"

panels = [
    dict(left=53, top=15, xlim=(-20, 210), xstep=50, ylim=(-0.2, 6), ystep=1,
         rlim=(0, 600), rstep=100, rlabel=XRT_LABEL, spans=[(-14, 200)], marks=[78],
         bat=bat_060814, right=[(xrt_060814, C_XRT)],
         name=("GRB 060814", 154, 32), z=(r"$\mathrm{z=1.9229}$", 162, 57)),
    dict(left=571, top=15, xlim=(-20, 140), xstep=20, ylim=(-1.1, 18), ystep=5,
         rlim=(-160, 2590), rstep=500, rlabel=XRT_LABEL, spans=[(-4, 10), (62, 110)], marks=[],
         bat=bat_061121, right=[(xrt_061121, C_XRT)],
         name=("GRB 061121", 708, 40), z=(r"$\mathrm{z=1.314}$", 700, 71)),
    dict(left=53, top=376, xlim=(-20, 650), xstep=100, ylim=(-0.1, 1.6), ystep=0.2,
         rlim=(0, 300), rstep=50, rlabel=XRT_LABEL, spans=[(137, 615)], marks=[],
         bat=None, right=[(xrt_070616, C_XRT)],
         name=("GRB 070616", 259, 418), z=None),
    dict(left=571, top=376, xlim=(-8, 120), xstep=20, ylim=(-0.2, 5), ystep=1,
         rlim=(-63, 1748), rstep=500, rlabel=XG_LABEL, spans=[(-5.5, 10.3), (80.8, 100.3)], marks=[],
         bat=bat_100619A, right=[(gbm_100619A, C_GBM), (xrt_100619A, C_XRT)],
         name=("GRB 100619A", 728, 410), z=None),
    dict(left=53, top=739, xlim=(-10, 300), xstep=50, ylim=(-0.2, 1.8), ystep=0.5,
         rlim=(-106, 1098), rstep=200, rlabel=r"$\mathrm{countss^{-1}[XRT,\,GBM]}$",
         blabel=r"$\mathrm{countss^{-1}\,cm^{-2}[BAT]}$",
         spans=[(-3.5, 15.5), (89.5, 229.7)], marks=[],
         bat=bat_100725B, right=[(xrt_100725B, C_XRT), (gbm_100725B, C_GBM)],
         name=("GRB 100725B", 144, 767), z=None),
    dict(left=571, top=739, xlim=(-100, 200), xstep=50, ylim=(-0.2, 4.2), ystep=1,
         rlim=(-58, 1247), rstep=200, rlabel=XG_LABEL, spans=[(-83, 158)], marks=[81],
         bat=bat_100728A, right=[(gbm_hi_100728A, C_GBMHI), (xrt_100728A, C_XRT), (gbm_100728A, C_GBM)],
         name=("GRB 100728A", 865, 765), z=(r"$\mathrm{z=1.567}$", 863, 798)),
    dict(left=53, top=1100, xlim=(-5, 148), xstep=20, ylim=(-0.2, 7.52), ystep=1,
         rlim=(-157, 3000), rstep=500, rlabel=XG_LABEL, spans=[(0, 64.5), (84.5, 124.5)], marks=[],
         bat=bat_100906A, right=[(xrt_100906A, C_XRT), (gbm_100906A, C_GBM)],
         name=("GRB 100906A", 240, 1121), z=(r"$\mathrm{z=1.727}$", 232, 1158)),
    dict(left=571, top=1100, xlim=(-10, 300), xstep=50, ylim=(-0.23, 7), ystep=1,
         rlim=(-56, 1500), rstep=200, rlabel=XG_LABEL, spans=[(125.3, 156.5), (195, 290)], marks=[],
         bat=bat_110102A, right=[(xrt_110102A, C_XRT), (gbm_110102A, C_GBM)],
         name=("GRB 110102A", 693, 1130), z=None),
]

for i, p in enumerate(panels):
    ax = add_axes(p["left"], p["top"])
    for a, b in p["spans"]:
        ax.axvspan(a, b, facecolor=SPAN_FACE, edgecolor="none", zorder=0)
        ax.axvline(a, color=SPAN_EDGE, lw=1.0, zorder=0.5)
        ax.axvline(b, color=SPAN_EDGE, lw=1.0, zorder=0.5)
    for m in p["marks"]:
        ax.axvline(m, color=MARK_LINE, lw=1.0, zorder=0.6)

    if p["bat"] is not None:
        steps(ax, p["bat"], C_BAT)
    else:
        t = bat_070616_start + bat_070616_bin * np.arange(len(bat_070616))
        sns.lineplot(x=t, y=np.array(bat_070616), ax=ax, color=C_BAT, lw=1.0,
                     drawstyle="steps-post", estimator=None, sort=False, legend=False)

    ax.set_xlim(*p["xlim"])
    ax.set_ylim(*p["ylim"])
    ax.xaxis.set_major_locator(MultipleLocator(p["xstep"]))
    ax.yaxis.set_major_locator(MultipleLocator(p["ystep"]))
    ax.tick_params(axis="x", top=True, bottom=True)
    ax.tick_params(axis="y", left=True, right=False)
    ax.set_xlabel(r"$\mathrm{Time[s]}$", fontsize=15, labelpad=0)
    ax.set_ylabel(p.get("blabel", BAT_LABEL), fontsize=12.5, labelpad=0)

    ax2 = ax.twinx()
    for series, col in p["right"]:
        steps(ax2, series, col)
    ax2.set_ylim(*p["rlim"])
    ax2.yaxis.set_major_locator(MultipleLocator(p["rstep"]))
    ax2.tick_params(axis="y", right=True, left=False, direction="in")
    ax2.set_ylabel(p["rlabel"], fontsize=12.5, labelpad=1, rotation=90)
    ax2.set_xlabel("")
    ax2.set_xlim(*p["xlim"])
    for s in ax2.spines.values():
        s.set_linewidth(1.0)
        s.set_color("black")

    name, nx, ny = p["name"]
    fig.text(*fpos(nx, ny), name, fontsize=14.5, ha="center", va="center", zorder=10)
    if p["z"] is not None:
        zt, zx, zy = p["z"]
        fig.text(*fpos(zx, zy), zt, fontsize=14, ha="center", va="center", zorder=10)

    if i == 0:
        handles = [Line2D([], [], color=c, lw=1.0) for c in (C_XRT, C_BAT, C_GBM, C_GBMHI)]
        labels = ["XRT 0.5-10 keV", "BAT 15-150 keV", "GBM 10-800 keV", "GBM 200 keV- 1 MeV"]
        ax2.legend(handles, labels, loc="upper left", bbox_to_anchor=fpos(262, 25),
                   bbox_transform=fig.transFigure, frameon=False, fontsize=9.6,
                   handlelength=1.45, handletextpad=1.0, labelspacing=0.45,
                   borderpad=0, borderaxespad=0)

fig.savefig("out.png", dpi=100)
